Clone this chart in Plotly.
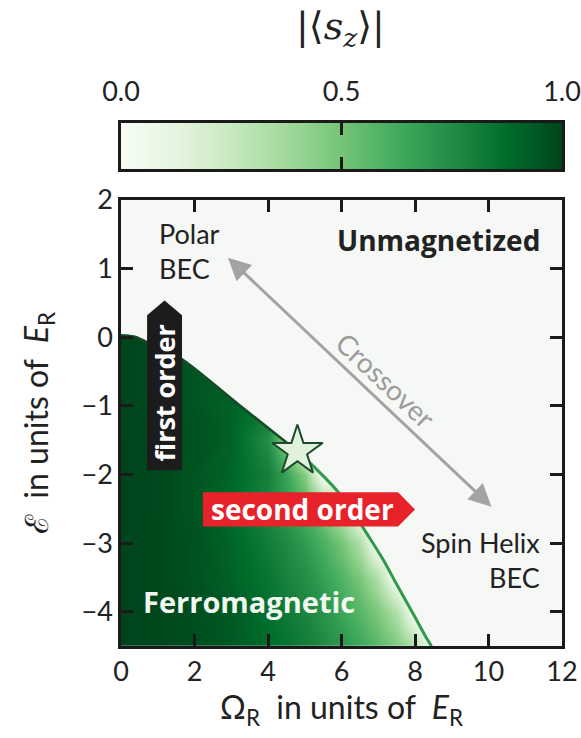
import plotly.graph_objects as go

# ---------------- data ----------------
# |<s_z>| on a coarse grid: columns = Omega_R values, rows = epsilon values
omega_grid = [0, 1, 2, 3, 4, 4.5, 5, 5.5, 6, 6.5, 7, 7.5, 8, 8.5, 9]
eps_grid = [-4.5, -4.0, -3.5, -3.0, -2.5, -2.0, -1.5, -1.0, -0.5, 0.0, 0.5]
sz_table = [
    [1.00, 0.99, 0.97, 0.94, 0.88, 0.85, 0.81, 0.76, 0.70, 0.64, 0.56, 0.46, 0.32, 0.00, 0.00],
    [1.00, 0.99, 0.97, 0.93, 0.86, 0.82, 0.78, 0.72, 0.65, 0.57, 0.47, 0.32, 0.00, 0.00, 0.00],
    [1.00, 0.99, 0.96, 0.91, 0.84, 0.79, 0.74, 0.67, 0.58, 0.48, 0.32, 0.00, 0.00, 0.00, 0.00],
    [1.00, 0.99, 0.96, 0.90, 0.81, 0.76, 0.69, 0.60, 0.49, 0.32, 0.00, 0.00, 0.00, 0.00, 0.00],
    [1.00, 0.99, 0.95, 0.88, 0.77, 0.69, 0.60, 0.47, 0.27, 0.00, 0.00, 0.00, 0.00, 0.00, 0.00],
    [1.00, 0.99, 0.95, 0.90, 0.80, 0.66, 0.45, 0.00, 0.00, 0.00, 0.00, 0.00, 0.00, 0.00, 0.00],
    [1.00, 0.99, 0.96, 0.91, 0.74, 0.45, 0.00, 0.00, 0.00, 0.00, 0.00, 0.00, 0.00, 0.00, 0.00],
    [1.00, 0.98, 0.95, 0.91, 0.85, 0.70, 0.40, 0.00, 0.00, 0.00, 0.00, 0.00, 0.00, 0.00, 0.00],
    [1.00, 0.98, 0.95, 0.91, 0.86, 0.80, 0.70, 0.00, 0.00, 0.00, 0.00, 0.00, 0.00, 0.00, 0.00],
    [1.00, 0.98, 0.95, 0.92, 0.88, 0.82, 0.75, 0.00, 0.00, 0.00, 0.00, 0.00, 0.00, 0.00, 0.00],
    [1.00, 0.98, 0.95, 0.92, 0.88, 0.82, 0.75, 0.00, 0.00, 0.00, 0.00, 0.00, 0.00, 0.00, 0.00],
]

# phase boundaries
first_order_x = [0.0, 0.35, 0.7, 1.1, 1.63, 3.2, 4.8]
first_order_y = [0.03, 0.01, -0.07, -0.17, -0.31, -0.98, -1.66]
second_order_x = [4.8, 5.35, 5.85, 6.25, 6.7, 7.12, 7.53, 7.95, 8.34, 8.45]
second_order_y = [-1.66, -1.94, -2.22, -2.5, -2.87, -3.23, -3.63, -4.03, -4.41, -4.5]

# tricritical point (star)
tricritical_x = [4.8]
tricritical_y = [-1.66]

# colour bar
cbar_levels = [0.0, 0.25, 0.5, 0.75, 1.0]
cbar_tickvals = [0.0, 0.5, 1.0]
cbar_ticktext = ["0.0", "0.5", "1.0"]

x_ticks = [0, 2, 4, 6, 8, 10, 12]
y_ticks = [-4, -3, -2, -1, 0, 1, 2]

# ---------------- style ----------------
BG = "#f5f8f4"
INK = "#1a1a1a"
greens = [[0.0, "#f7fcf5"], [0.125, "#e5f5e0"], [0.25, "#c7e9c0"], [0.375, "#a1d99b"],
          [0.5, "#74c476"], [0.625, "#41ab5d"], [0.75, "#238b45"], [0.875, "#006d2c"],
          [1.0, "#00441b"]]
REG = "Lato"
BOLD = "Open Sans"

fig = go.Figure()

fig.add_trace(go.Heatmap(x=omega_grid, y=eps_grid, z=sz_table, zmin=0, zmax=1,
                         colorscale=greens, zsmooth="best", showscale=False,
                         hoverinfo="skip", xaxis="x", yaxis="y"))

# unmagnetized region (above the phase boundary)
mask_x = [-1.0] + first_order_x + second_order_x[1:] + [8.6, 13.0, 13.0, -1.0]
mask_y = [first_order_y[0]] + first_order_y + second_order_y[1:] + [-5.0, -5.0, 2.5, 2.5]
fig.add_trace(go.Scatter(x=mask_x, y=mask_y, mode="lines", fill="toself",
                         fillcolor=BG, line=dict(width=0), hoverinfo="skip"))

fig.add_trace(go.Scatter(x=first_order_x, y=first_order_y, mode="lines",
                         line=dict(color="#154a26", width=2.5, shape="spline"),
                         hoverinfo="skip"))
fig.add_trace(go.Scatter(x=second_order_x, y=second_order_y, mode="lines",
                         line=dict(color="#2f9a4b", width=3, shape="spline"),
                         hoverinfo="skip"))
fig.add_trace(go.Scatter(x=tricritical_x, y=tricritical_y, mode="markers",
                         marker=dict(symbol="star", size=38, color="#e1f2dc",
                                     line=dict(color="#1d4a2b", width=2)),
                         hoverinfo="skip"))

# colour bar drawn as its own small axis
fig.add_trace(go.Heatmap(x=cbar_levels, y=[0, 1], z=[cbar_levels, cbar_levels],
                         zmin=0, zmax=1, colorscale=greens, zsmooth="best",
                         showscale=False, hoverinfo="skip", xaxis="x2", yaxis="y2"))

axis_common = dict(ticks="inside", ticklen=12, tickwidth=2.5, tickcolor=INK,
                   showline=True, linewidth=2.5, linecolor=INK, mirror="ticks",
                   showgrid=False, zeroline=False, automargin=False)
tick_font = dict(family=REG, size=27, color="#222")
title_font = dict(family=REG, size=32, color="#222")

fig.update_layout(
    template="none",
    width=581, height=738,
    margin=dict(l=121, r=19, t=123, b=92),
    paper_bgcolor="white", plot_bgcolor=BG, showlegend=False,
    xaxis=dict(domain=[0, 1], range=[0, 12], anchor="y", tickvals=x_ticks,
               tickfont=tick_font,
               title=dict(text="Ω<sub>R</sub>\u00a0 in units of \u00a0<i>E</i><sub>R</sub>",
                          font=title_font, standoff=10),
               **axis_common),
    yaxis=dict(domain=[0, 0.8528], range=[-4.5, 2], anchor="x", tickvals=y_ticks,
               tickfont=tick_font,
               title=dict(text="ℰ\u00a0 in units of \u00a0<i>E</i><sub>R</sub>",
                          font=title_font, standoff=24),
               **axis_common),
    xaxis2=dict(domain=[0, 1], range=[0, 1], anchor="y2", side="top",
                tickvals=cbar_tickvals, ticktext=cbar_ticktext,
                tickfont=dict(family=REG, size=27, color="#222"),
                ticklabelstandoff=8, ticklabeloverflow="allow", **axis_common),
    yaxis2=dict(domain=[0.912, 1], range=[0, 1], anchor="x2", showticklabels=False,
                ticks="", showline=True, linewidth=2.5, linecolor=INK, mirror=True,
                showgrid=False, zeroline=False),
)

# label boxes
fig.add_shape(type="path", xref="x", yref="y", layer="above",
              path="M 0.71,-1.94 L 1.66,-1.94 L 1.66,0.32 L 1.185,0.535 L 0.71,0.32 Z",
              fillcolor="#1c1c1c", line=dict(width=0))
fig.add_shape(type="path", xref="x", yref="y", layer="above",
              path="M 2.23,-2.76 L 7.54,-2.76 L 8.0,-2.51 L 7.54,-2.26 L 2.23,-2.26 Z",
              fillcolor="#e8222b", line=dict(width=0))

annos = [
    dict(x=1.19, y=-0.81, text="<b>first order</b>", textangle=-90,
         font=dict(family=BOLD, size=27, color="white")),
    dict(x=4.95, y=-2.51, text="<b>second order</b>",
         font=dict(family=BOLD, size=28, color="white")),
    dict(x=11.46, y=1.41, text="<b>Unmagnetized</b>", xanchor="right",
         font=dict(family=BOLD, size=28, color="#222")),
    dict(x=0.54, y=-3.85, text="<b>Ferromagnetic</b>", xanchor="left",
         font=dict(family=BOLD, size=29, color="#f2f7f0")),
    dict(x=0.97, y=1.26, text="Polar<br>BEC", xanchor="left", align="left",
         font=dict(family=REG, size=27, color="#222")),
    dict(x=11.46, y=-3.24, text="Spin Helix<br>BEC", xanchor="right", align="right",
         font=dict(family=REG, size=27, color="#222")),
    dict(x=7.2, y=-0.63, text="Crossover", textangle=43.4,
         font=dict(family=REG, size=28, color="#9c9c9c")),
]
for a in annos:
    fig.add_annotation(xref="x", yref="y", showarrow=False, **a)

# crossover double arrow
fig.add_annotation(xref="x", yref="y", axref="x", ayref="y",
                   x=2.91, y=1.16, ax=10.12, ay=-2.49, text="",
                   showarrow=True, arrowside="end+start", arrowhead=2,
                   arrowsize=1.5, arrowwidth=3, arrowcolor="#a3a3a3", standoff=0)

# colour-bar title
fig.add_annotation(xref="paper", yref="paper", x=0.497, y=1.18, yanchor="middle",
                   showarrow=False,
                   text="|⟨<i>s</i><sub><i>z</i></sub>⟩|",
                   font=dict(family="DejaVu Serif", size=38, color="#222"))

fig.write_html("out.html")
